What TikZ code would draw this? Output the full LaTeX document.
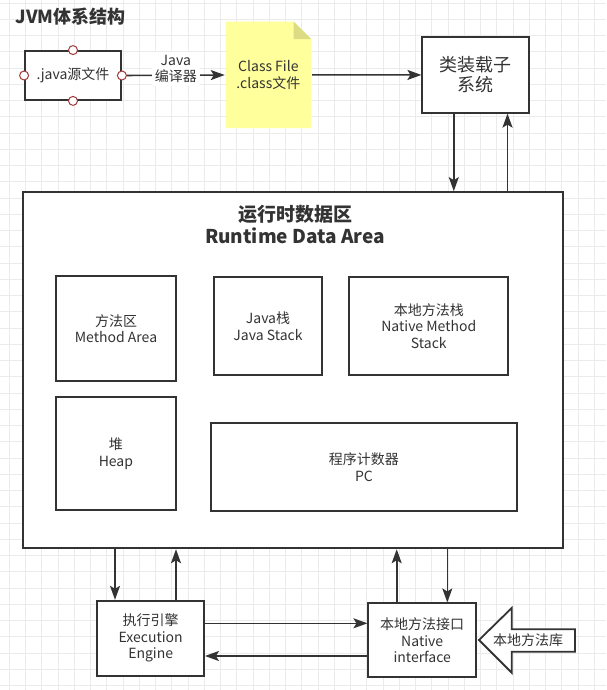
\documentclass[tikz,border=0pt]{standalone}
\usepackage{fontspec}
\setmainfont{Noto Sans CJK SC}
\usepackage{xcolor}
\usepackage{tikz}
\usetikzlibrary{arrows.meta}

\definecolor{linegray}{HTML}{333333}
\definecolor{txtgray}{HTML}{333333}
\definecolor{gridgray}{HTML}{EBEBEB}
\definecolor{notefill}{HTML}{FFFF9C}
\definecolor{notefold}{HTML}{DCDC84}
\definecolor{portred}{HTML}{A03C3C}

\begin{document}
\begin{tikzpicture}[x=1pt,y=-1pt,
                    every node/.append style={text=txtgray},
                    box/.style n args={2}{draw=linegray,line width=1.8pt,
                    fill=white,align=center,inner sep=0pt,
                    minimum width=#1,minimum height=#2,
                    font=\fontsize{14}{16.5}\selectfont},
                    port/.style={circle,draw=portred,fill=white,
                    line width=1pt,minimum size=9pt,inner sep=0pt},
                    arr/.style={draw=linegray,line width=1.6pt,
                    -{Stealth[length=14pt,width=10pt,inset=3pt]}},
                    gridline/.style={draw=gridgray,line width=0.8pt},
                    title/.style={align=center,font=\fontsize{18}{22.5}\selectfont\bfseries}]
    \useasboundingbox[fill=white] (0,0) rectangle (606,690);
    \foreach \i in {0,...,36}
        \draw[gridline] ({9.3+16.25*\i},0) -- ({9.3+16.25*\i},690);
    \foreach \j in {0,...,42}
        \draw[gridline] (0,{3+16.25*\j}) -- (606,{3+16.25*\j});

    \node[title,anchor=west] (jvm) at (12,16.5) {JVM体系结构};

    % class files and loader
    \node[box={96pt}{49pt}] (src) at (73,75.5) {.java源文件};
    \foreach \a in {north,south,east,west}
        \node[port] (src-\a) at (src.\a) {};
    \node[box={85.5pt}{106.5pt},draw=none,fill=none,
          path picture={
            \fill[notefill] (path picture bounding box.south west)
                -- (path picture bounding box.north west)
                -- ([xshift=-17.5pt]path picture bounding box.north east)
                -- ([yshift=-17.5pt]path picture bounding box.north east)
                -- (path picture bounding box.south east) -- cycle;
            \fill[notefold] ([xshift=-17.5pt]path picture bounding box.north east)
                -- ([xshift=-17.5pt,yshift=-17.5pt]path picture bounding box.north east)
                -- ([yshift=-17.5pt]path picture bounding box.north east) -- cycle;
          }] (cls) at (268.4,74.8) {Class File\\.class文件};
    \node[box={107pt}{75.4pt},font=\fontsize{18}{20}\selectfont] (loader) at (475.8,75) {类装载子\\系统};

    % runtime data area
    \node[box={539.4pt}{356.3pt}] (rda) at (293,370.2) {};
    \node[title,font=\fontsize{19}{22.5}\selectfont\bfseries] (rdat) at (295,224.5) {运行时数据区\\Runtime Data Area};
    \node[box={120pt}{105pt}] (marea) at (116,328.5) {方法区\\Method Area};
    \node[box={107.4pt}{97.7pt}] (jstack) at (268,326.2) {Java栈\\Java Stack};
    \node[box={159pt}{98pt}] (nstack) at (428.8,326) {本地方法栈\\Native Method\\Stack};
    \node[box={119.7pt}{112.7pt}] (heap) at (115.9,453.7) {堆\\Heap};
    \node[box={305.7pt}{87.4pt}] (pc) at (363.9,467) {程序计数器\\PC};

    % engine and native interface
    \node[box={106.7pt}{75pt}] (exec) at (150.7,638.2) {执行引擎\\Execution\\Engine};
    \node[box={107.7pt}{74pt}] (nif) at (422.2,640.3) {本地方法接口\\Native\\interface};
    \draw[linegray,line width=1.8pt,fill=white,line join=miter]
        (479,640) -- (511.7,608) -- (511.7,629.3) -- (575,629.3)
        -- (575,651.7) -- (511.7,651.7) -- (511.7,672.7) -- cycle;
    \node[font=\fontsize{14}{16.5}\selectfont] (nlib) at (528,640) {本地方法库};

    \draw[arr] (src-east) -- node[fill=white,align=center,inner sep=3pt,
        yshift=6.5pt,font=\fontsize{14}{16.5}\selectfont] (javac) {Java\\编译器} (cls);
    \draw[arr] (cls) -- (loader);
    \draw[arr] ([xshift=-22pt]loader.south) -- ([xshift=-22pt]loader.south |- rda.north);
    \draw[arr] ([xshift=31.7pt]loader.south |- rda.north) -- ([xshift=31.7pt]loader.south);
    \draw[arr] ([xshift=-35.7pt]exec.north |- rda.south) -- ([xshift=-35.7pt]exec.north);
    \draw[arr] ([xshift=25.3pt]exec.north) -- ([xshift=25.3pt]exec.north |- rda.south);
    \draw[arr] ([xshift=-25.5pt]nif.north) -- ([xshift=-25.5pt]nif.north |- rda.south);
    \draw[arr] ([xshift=25.1pt]nif.north |- rda.south) -- ([xshift=25.1pt]nif.north);
    \draw[arr] ([yshift=14.9pt]exec.east) -- ([yshift=14.9pt]exec.east -| nif.west);
    \draw[arr] ([yshift=-17.8pt]exec.east -| nif.west) -- ([yshift=-17.8pt]exec.east);
\end{tikzpicture}
\end{document}
